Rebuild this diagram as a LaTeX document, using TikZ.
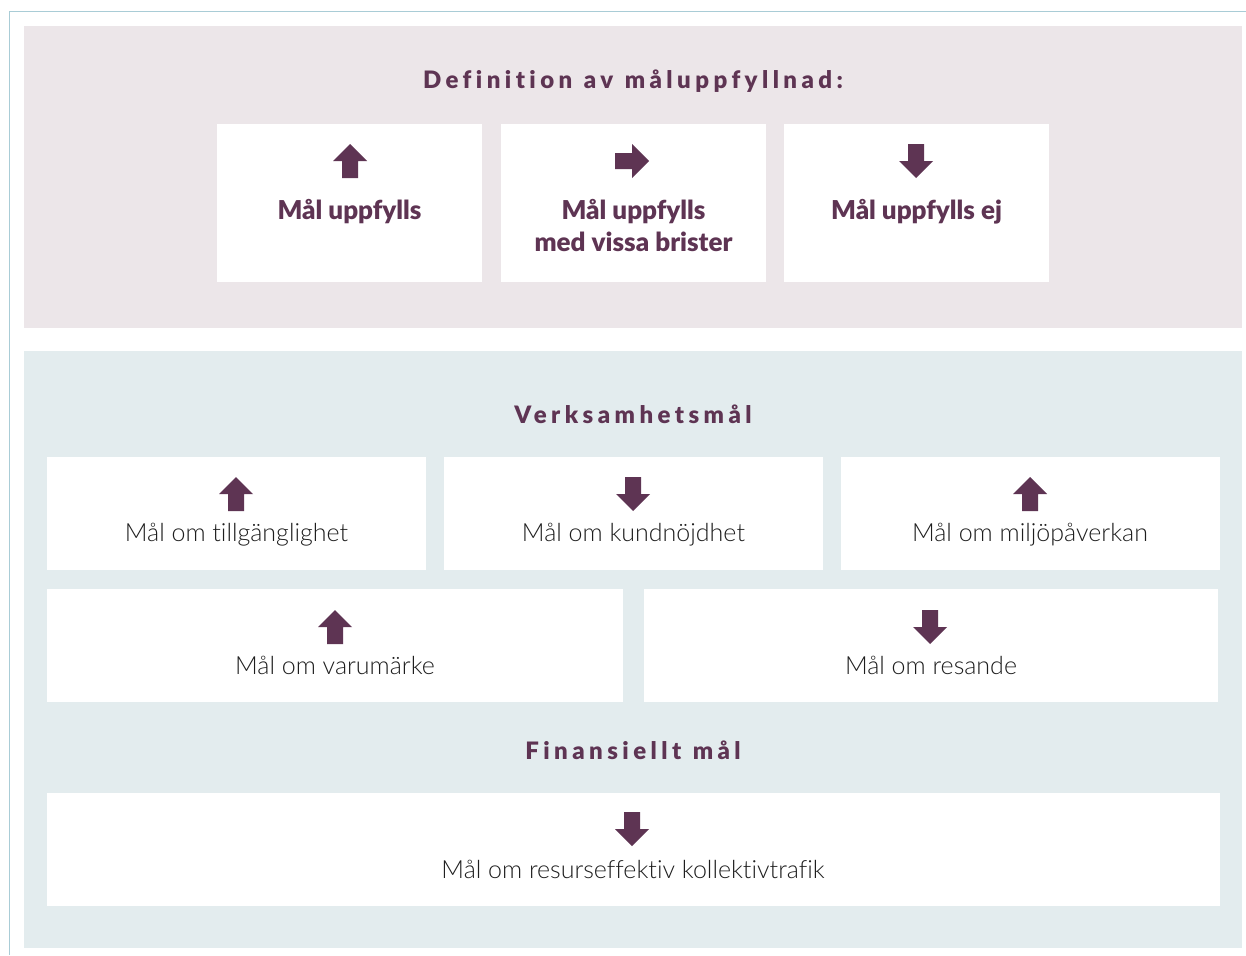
\documentclass[tikz,border=0pt]{standalone}
\usepackage{fontspec}
\setmainfont{Lato}[Ligatures=NoCommon]
\newfontfamily\heavy{Lato Black}[Ligatures=NoCommon]
\newfontfamily\titlef{Lato Black}[Ligatures=NoCommon,LetterSpace=18.5,WordSpace=1.15]
\newfontfamily\lightf{Lato Light}[Ligatures=NoCommon]
\definecolor{purp}{HTML}{5E3453}
\definecolor{toppanel}{HTML}{ECE6E9}
\definecolor{botpanel}{HTML}{E3ECEE}
\definecolor{frame}{HTML}{A9CCD6}
\definecolor{body}{HTML}{1E1E1E}
\tikzset{
  box/.style={fill=white, draw=none},
  title/.style={font=\fontsize{24}{28}\titlef, text=purp, anchor=base},
  strong/.style={font=\fontsize{26}{32}\heavy, text=purp, anchor=base},
  plain/.style={font=\fontsize{25}{28}\lightf, text=body, anchor=base},
  arr/.style={fill=purp, draw=none}
}
\newcommand{\uparr}[2]{\fill[arr] (#1-8,#2+17) -- (#1-8,#2) -- (#1-17,#2) -- (#1,#2-17) -- (#1+17,#2) -- (#1+8,#2) -- (#1+8,#2+17) -- cycle;}
\newcommand{\downarr}[2]{\fill[arr] (#1-8,#2-17) -- (#1-8,#2) -- (#1-17,#2) -- (#1,#2+17) -- (#1+17,#2) -- (#1+8,#2) -- (#1+8,#2-17) -- cycle;}
\newcommand{\rightarr}[2]{\fill[arr] (#1-17,#2-8) -- (#1,#2-8) -- (#1,#2-17) -- (#1+17,#2) -- (#1,#2+17) -- (#1,#2+8) -- (#1-17,#2+8) -- cycle;}
\begin{document}
\begin{tikzpicture}[x=1pt,y=-1pt]
\useasboundingbox (0,0) rectangle (1246,955);
% frame
\draw[frame, line width=1.2pt] (9.5,955) -- (9.5,11.5) -- (1246,11.5);
% panels
\fill[toppanel] (24,26) rectangle (1242,328);
\fill[botpanel] (24,351) rectangle (1242,948);
% top section
\node[title] (deftitle) at (633,89) {Definition av måluppfyllnad:};
\fill[box] (217,124) rectangle (482,282);
\fill[box] (501,124) rectangle (766,282);
\fill[box] (784,124) rectangle (1049,282);
\uparr{350}{161}
\rightarr{632}{161}
\downarr{916}{161}
\node[strong] (d1) at (349.5,219) {Mål uppfylls};
\node[strong] (d2a) at (633.5,219) {Mål uppfylls};
\node[strong] (d2b) at (633.5,251) {med vissa brister};
\node[strong] (d3) at (916.5,219) {Mål uppfylls ej};
% Verksamhetsmål
\node[title] (vtitle) at (633,423) {Verksamhetsmål};
\fill[box] (47,457) rectangle (426,570);
\fill[box] (444,457) rectangle (823,570);
\fill[box] (841,457) rectangle (1220,570);
\fill[box] (47,589) rectangle (623,702);
\fill[box] (644,589) rectangle (1218,702);
\uparr{236}{494}
\downarr{633}{494}
\uparr{1030}{494}
\uparr{335}{627}
\downarr{930}{627}
\node[plain] (v1) at (236.5,541) {Mål om tillgänglighet};
\node[plain] (v2) at (633.5,541) {Mål om kundnöjdhet};
\node[plain] (v3) at (1030,541) {Mål om miljöpåverkan};
\node[plain] (v4) at (335,674) {Mål om varumärke};
\node[plain] (v5) at (931,674) {Mål om resande};
% Finansiellt
\node[title] (ftitle) at (633,759) {Finansiellt mål};
\fill[box] (47,793) rectangle (1220,906);
\downarr{632}{829}
\node[plain] (f1) at (633,878) {Mål om resurseffektiv kollektivtrafik};
\end{tikzpicture}
\end{document}
